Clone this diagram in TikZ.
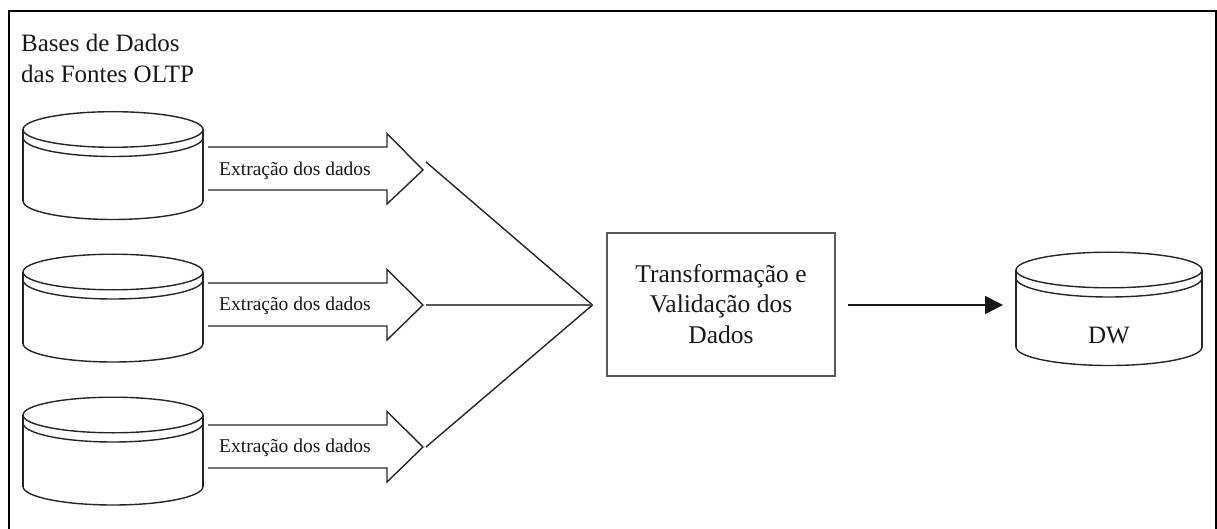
\documentclass[tikz,border=0pt]{standalone}
\usepackage{fontspec}
\setmainfont{Liberation Serif}
\usetikzlibrary{arrows.meta}
\tikzset{
  lbl/.style={inner sep=0pt,font=\fontsize{19.5}{19.5}\selectfont,text=black!90},
  big/.style={inner sep=0pt,align=left,font=\fontsize{25}{31}\selectfont,text=black!90},
  boxtext/.style={inner sep=0pt,align=center,font=\fontsize{25.5}{30.5}\selectfont,text=black!90},
  dwtext/.style={inner sep=0pt,font=\fontsize{25}{25}\selectfont,text=black!90},
  ln/.style={draw=black!85,line width=1.4pt},
  boxln/.style={draw=black!65,line width=1.7pt},
  frameln/.style={draw=black,line width=2.6pt},
}
% half ellipse from (x1,y) to (x2,y) with signed height ry
\newcommand{\halfell}[4]{%
  (#1,#2) .. controls (#1,#2+0.5523*#4) and ({(#1+#3)/2-0.5523*(#3-#1)/2},#2+#4) .. ({(#1+#3)/2},#2+#4)
  .. controls ({(#1+#3)/2+0.5523*(#3-#1)/2},#2+#4) and (#3,#2+0.5523*#4) .. (#3,#2)}
% left x, centre y of the top ellipse, right x, side length
\newcommand{\cyl}[4]{%
  \draw[ln] \halfell{#1}{#2}{#3}{-17.8};
  \draw[ln] \halfell{#1}{#2}{#3}{17.8};
  \draw[ln] \halfell{#1}{#2+8}{#3}{19};
  \draw[ln] (#1,#2) -- (#1,#2+#4);
  \draw[ln] (#3,#2) -- (#3,#2+#4);
  \draw[ln] \halfell{#1}{#2+#4}{#3}{18.5};
}
\begin{document}
\begin{tikzpicture}[x=1pt,y=-1pt]
\useasboundingbox (0,0) rectangle (1217,529);
\fill[white] (0,0) rectangle (1217,529);
\draw[frameln] (9,529) -- (9,11) -- (1216,11) -- (1216,529);
\node[big,anchor=base west] (title) at (21,83) {Bases de Dados\\das Fontes OLTP};
\cyl{23}{129.5}{203}{71.5}
\cyl{23}{272}{203}{71.5}
\cyl{23}{415}{203}{71.5}
\foreach \n/\t/\m in {a/147/170,b/283/305,c/425/447}{
  \draw[ln] (208,\t) -- (387,\t) -- (387,\t-13.5) -- (423,\m) -- (387,\t+57) -- (387,\t+43) -- (208,\t+43);
  \node[lbl] (l\n) at (295,\m+0.5) {Extração dos dados};
}
\node[boxln,draw,minimum width=228pt,minimum height=143pt,inner sep=0pt] (box) at (721,304.5) {};
\node[boxtext] (boxt) at (721,304) {Transformação e\\Validação dos\\Dados};
\coordinate (join) at (592.5,305);
\coordinate (ja) at (426,162);
\coordinate (jb) at (426,305);
\coordinate (jc) at (426,447);
\draw[ln] (ja) -- (join);
\draw[boxln] (jb) -- (join);
\draw[ln] (jc) -- (join);
\coordinate (boxout) at (848,305);
\coordinate (dwin) at (1003,305);
\draw[line width=1.6pt,draw=black!90,-{Triangle[length=18pt,width=18pt]}] (boxout) -- (dwin);
\cyl{1016}{270}{1202}{77}
\node[dwtext] (dw) at (1109,336) {DW};
\end{tikzpicture}
\end{document}
